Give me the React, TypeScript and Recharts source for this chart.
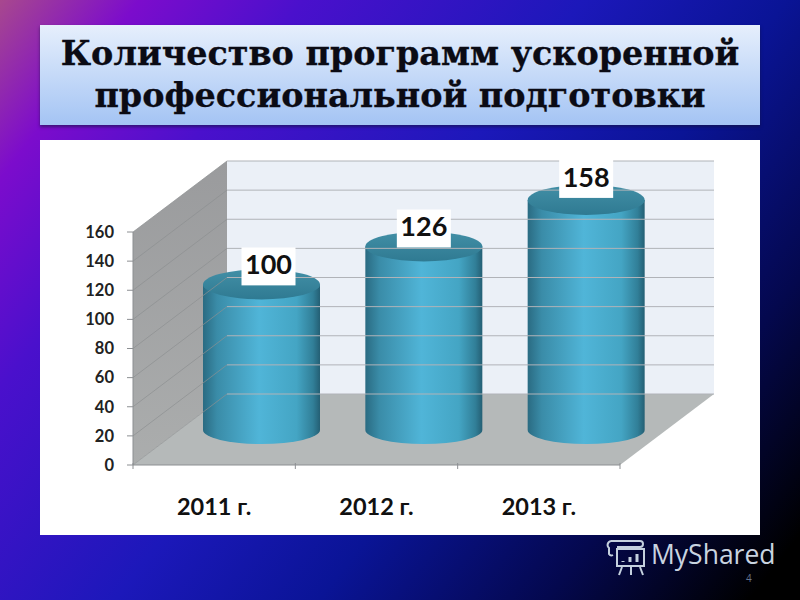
import React from 'react';
import { BarChart, Bar, XAxis, YAxis, ReferenceArea, ReferenceLine, LabelList } from 'recharts';

const categories = ['2011 г.', '2012 г.', '2013 г.'];
const programs = [100, 126, 158];
const yTicks = [0, 20, 40, 60, 80, 100, 120, 140, 160];
const titleLines = ['Количество программ ускоренной', 'профессиональной подготовки'];

const chartData = categories.map((name, i) => ({ name, programs: programs[i] }));

// сдвиг задней стенки относительно передней оси
const DEPTH_X = 94;
const DEPTH_Y = 71;
const BAR_DX = 47;
const BAR_DY = 35;
const RY = 15;
const CATEGORY_STEP = 487 / 3;

const Walls = (props: any) => {
  const { x, y, width, height } = props;
  const bottom = y + height;
  const right = x + width;
  return (
    <g>
      <polygon
        points={`${x},${bottom} ${x},${y} ${x + DEPTH_X},${y - DEPTH_Y} ${x + DEPTH_X},${bottom - DEPTH_Y}`}
        fill="url(#sideWall)"
      />
      <polygon
        points={`${x + DEPTH_X},${y - DEPTH_Y} ${right + DEPTH_X},${y - DEPTH_Y} ${right + DEPTH_X},${bottom - DEPTH_Y} ${x + DEPTH_X},${bottom - DEPTH_Y}`}
        fill="#ebf0f7"
      />
      <polygon
        points={`${x},${bottom} ${x + DEPTH_X},${bottom - DEPTH_Y} ${right + DEPTH_X},${bottom - DEPTH_Y} ${right},${bottom}`}
        fill="#b5b9b9"
      />
    </g>
  );
};

const GridLine = (props: any) => {
  const { x1, x2, y1 } = props;
  return (
    <g fill="none">
      <line x1={x1} y1={y1} x2={x1 + DEPTH_X} y2={y1 - DEPTH_Y} stroke="#8d8f91" strokeWidth={0.7} />
      <line x1={x1 + DEPTH_X} y1={y1 - DEPTH_Y} x2={x2 + DEPTH_X} y2={y1 - DEPTH_Y} stroke="#b0b3b8" strokeWidth={1} />
    </g>
  );
};

const Cylinder = (props: any) => {
  const { x, y, width, height } = props;
  const left = x + BAR_DX;
  const right = left + width;
  const top = y - BAR_DY;
  const bottom = top + height;
  const cx = left + width / 2;
  const rx = width / 2;
  return (
    <g>
      <path
        d={`M${left},${top} L${left},${bottom} A${rx},${RY - 1} 0 0 0 ${right},${bottom} L${right},${top} Z`}
        fill="url(#cylinderBody)"
      />
      <ellipse cx={cx} cy={top} rx={rx} ry={RY} fill="url(#cylinderTop)" />
    </g>
  );
};

const labelNudgeX = [7, 0, 0];
const labelNudgeY = [1, 1, -2];

const ValueLabel = (props: any) => {
  const { x, y, width, value, index } = props;
  const cx = x + BAR_DX + width / 2 + labelNudgeX[index];
  const cy = y - BAR_DY - 19 + labelNudgeY[index];
  return (
    <g>
      <rect x={cx - 27} y={cy - 19} width={54} height={38} fill="#ffffff" />
      <text x={cx} y={cy + 1} textAnchor="middle" dominantBaseline="middle" fontFamily="Lato" fontWeight={700} fontSize={27} fill="#111">
        {value}
      </text>
    </g>
  );
};

// риски оси X стоят между категориями, а не под ними
const CategoryTick = (props: any) => {
  const { x, y, payload, index } = props;
  const axisY = y - 28;
  const leftTick = x - CATEGORY_STEP / 2;
  const rightTick = x + CATEGORY_STEP / 2;
  return (
    <g>
      <line x1={leftTick} y1={axisY} x2={leftTick} y2={axisY + 6} stroke="#8c8f92" />
      {index === categories.length - 1 && (
        <line x1={rightTick} y1={axisY} x2={rightTick} y2={axisY + 6} stroke="#8c8f92" />
      )}
      <text x={x} y={y + 24} textAnchor="middle" fontFamily="Lato" fontWeight={700} fontSize={23.5} fill="#111">
        {payload.value}
      </text>
    </g>
  );
};

const MyShared = () => (
  <svg width={800} height={600} style={{ position: 'absolute', left: 0, top: 0 }}>
    <g fill="none" stroke="#c4d0de" strokeWidth={2}>
      <path d="M611,541 h29 a3,3 0 0 1 0,6 h-23 M611,541 a4,4 0 0 0 -2,7 v6 a3,3 0 0 0 4,1" />
      <rect x={617} y={549} width={27} height={17} />
      <path d="M622,567 l-3,8 M631,567 v8 M640,567 l3,8" />
      <path d="M623,562 v-1 M630,562 v-5 M637,562 v-8" strokeWidth={3} />
    </g>
    <text x={651} y={564} fontFamily="Open Sans" fontSize={26.5} fill="#c9d4e0">MyShared</text>
    <text x={746} y={582} fontFamily="Open Sans" fontSize={10} fill="#66758e">4</text>
  </svg>
);

export default function App() {
  return (
    <div
      style={{
        position: 'fixed',
        left: 0,
        top: 0,
        width: 800,
        height: 600,
        overflow: 'hidden',
        background:
          'linear-gradient(128deg, #a8488e 0%, #7c0ccc 11%, #4a10cc 24%, #1c18ba 46%, #0a1496 62%, #04084e 80%, #000000 96%)',
      }}
    >
      <div
        style={{
          position: 'absolute',
          left: 40,
          top: 25,
          width: 720,
          height: 100,
          background: 'linear-gradient(180deg, #e6effc 0%, #a4c4f4 100%)',
          boxShadow: '0 2px 3px rgba(20,20,60,0.6)',
          textAlign: 'center',
          fontFamily: '"DejaVu Serif"',
          fontWeight: 700,
          fontSize: 33.4,
          lineHeight: '42px',
          color: '#0b0b14',
          WebkitTextStroke: '0.3px #0b0b14',
          paddingTop: 8,
          boxSizing: 'border-box',
          whiteSpace: 'nowrap',
        }}
      >
        {titleLines.map((line) => (
          <div key={line}>{line}</div>
        ))}
      </div>
      <div style={{ position: 'absolute', left: 40, top: 140, width: 720, height: 395, background: '#ffffff' }} />
      <div style={{ position: 'absolute', left: 0, top: 0 }}>
        <BarChart
          width={800}
          height={600}
          data={chartData}
          margin={{ top: 232, right: 180, bottom: 75, left: 93 }}
          barSize={117}
        >
          <defs>
            <linearGradient id="cylinderBody" x1="0" y1="0" x2="1" y2="0">
              <stop offset="0%" stopColor="#2a6b82" />
              <stop offset="12%" stopColor="#3a8ca8" />
              <stop offset="48%" stopColor="#50b5d8" />
              <stop offset="80%" stopColor="#44a5c4" />
              <stop offset="94%" stopColor="#317f98" />
              <stop offset="100%" stopColor="#245f74" />
            </linearGradient>
            <linearGradient id="cylinderTop" x1="0" y1="0" x2="0" y2="1">
              <stop offset="0%" stopColor="#428fa6" />
              <stop offset="100%" stopColor="#2f7a92" />
            </linearGradient>
            <linearGradient id="sideWall" x1="0" y1="0" x2="0" y2="1">
              <stop offset="0%" stopColor="#9a9b9d" />
              <stop offset="100%" stopColor="#abadad" />
            </linearGradient>
          </defs>
          <ReferenceArea y1={0} y2={160} ifOverflow="visible" shape={<Walls />} />
          {yTicks.map((t) => (
            <ReferenceLine key={t} y={t} ifOverflow="visible" shape={<GridLine />} />
          ))}
          <XAxis
            dataKey="name"
            height={60}
            interval={0}
            tickLine={false}
            tickMargin={20}
            stroke="#8c8f92"
            tick={<CategoryTick />}
          />
          <YAxis
            domain={[0, 160]}
            ticks={yTicks}
            width={40}
            tickSize={6}
            tickMargin={13}
            stroke="#8c8f92"
            tick={{ fontFamily: 'Lato', fontWeight: 700, fontSize: 16.5, fill: '#222' }}
          />
          <Bar dataKey="programs" isAnimationActive={false} shape={<Cylinder />}>
            <LabelList dataKey="programs" content={<ValueLabel />} />
          </Bar>
        </BarChart>
      </div>
      <MyShared />
    </div>
  );
}
